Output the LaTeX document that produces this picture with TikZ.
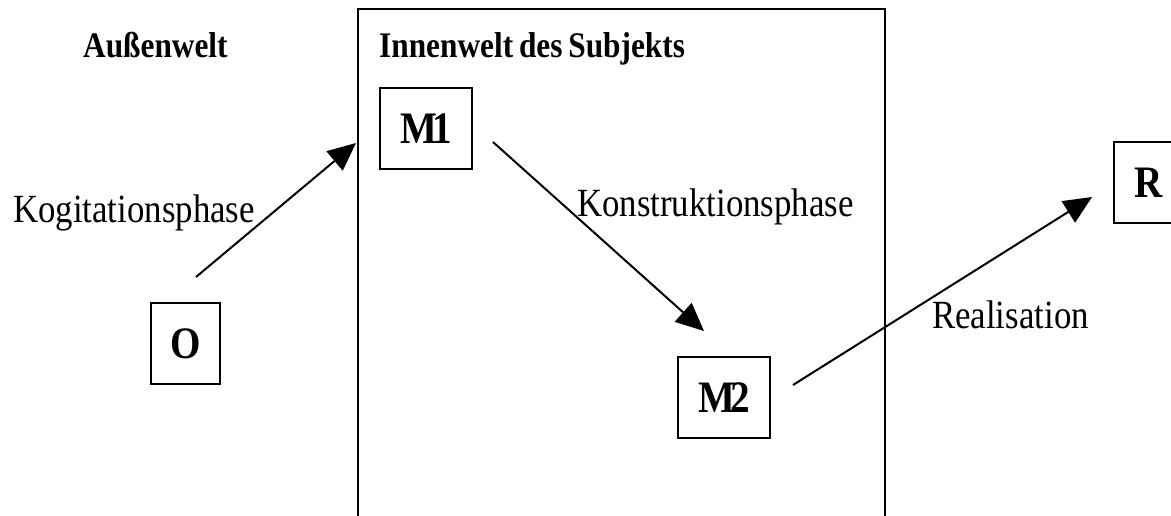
\documentclass[tikz,border=0pt]{standalone}
\usepackage{fontspec}
\setmainfont{Liberation Serif}[FakeStretch=0.87]
\usetikzlibrary{arrows.meta}
\tikzset{
  frame/.style={draw, line width=2pt, inner sep=0pt},
  letterbox/.style={draw, line width=2pt, inner sep=0pt, font=\fontsize{45}{50}\selectfont\bfseries},
  headline/.style={anchor=base west, inner sep=0pt, font=\fontsize{36}{40}\selectfont\bfseries},
  phase/.style={anchor=base west, inner sep=0pt, font=\fontsize{40}{44}\selectfont},
  conn/.style={line width=2pt, -{Triangle[length=28pt,width=25pt]}}
}
\begin{document}
\begin{tikzpicture}[x=1pt,y=-1pt]
\useasboundingbox (0,0) rectangle (1171,515);
% inner world frame (extends beyond bottom edge)
\node[frame, minimum width=527pt, minimum height=560pt, anchor=north west] (inner) at (357,8) {};
% headings
\node[headline] (aussen) at (83,57) {Außenwelt};
\node[headline] (innen) at (379,57) {Innenwelt\kern-2pt\ des\kern-2pt\ Subjekts};
% boxes
\node[letterbox, minimum width=92pt, minimum height=81pt] (M1) at (426,128.5) {M\kern-5pt 1};
\node[letterbox, minimum width=92pt, minimum height=81pt] (M2) at (724,397.5) {M\kern-5pt 2};
\node[letterbox, minimum width=69pt, minimum height=81pt] (O) at (185.5,343.5) {O};
\node[letterbox, minimum width=69pt, minimum height=81pt] (R) at (1148.5,182.5) {R};
% phase labels
\node[phase] (kog) at (13,222) {Kogitationsphase};
\node[phase] (kon) at (577,216) {Konstruktionsphase};
\node[phase] (real) at (932,328) {Realisation};
% connector ends
\coordinate (a1s) at (196,277);
\coordinate (a1e) at (356,143);
\coordinate (a2s) at (493,142);
\coordinate (a2e) at (704,331);
\coordinate (a3s) at (793,385);
\coordinate (a3e) at (1092,197);
\draw[conn] (a1s) -- (a1e);
\draw[conn] (a2s) -- (a2e);
\draw[conn] (a3s) -- (a3e);
\end{tikzpicture}
\end{document}
